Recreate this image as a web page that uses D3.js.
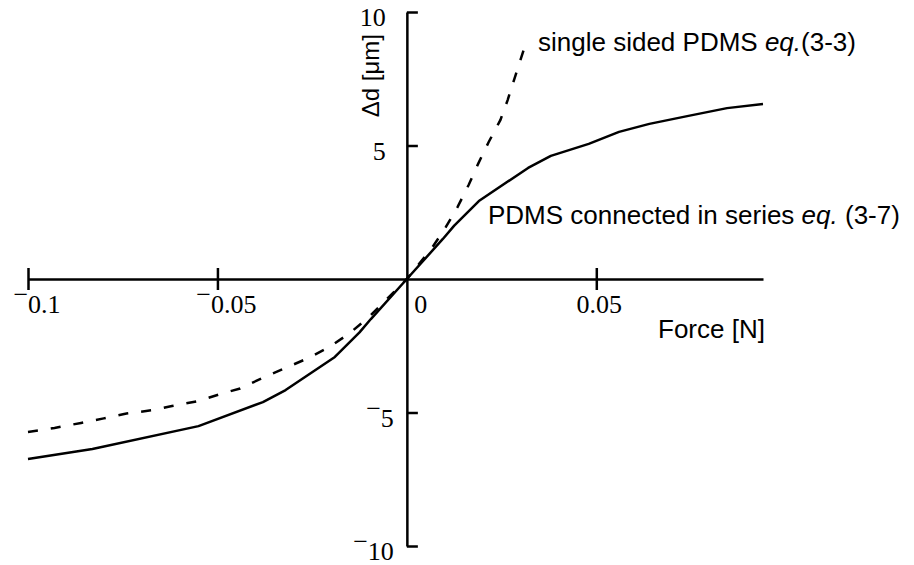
<!DOCTYPE html>
<html>
<head>
<meta charset="utf-8">
<script src="https://cdn.jsdelivr.net/npm/d3@7"></script>
<style>
  body { margin: 0; background: #fff; }
  svg { display: block; }
</style>
</head>
<body>
<svg id="chart" width="914" height="565"></svg>
<script>
// force [N] et déflexion [µm]
var forceSeries = [-0.1, -0.083, -0.055, -0.038, -0.032, -0.019, -0.0125, -0.0095, 0, 0.0095, 0.0125, 0.019, 0.032, 0.038, 0.048, 0.056, 0.064, 0.074, 0.0845, 0.094];
var dSeries = [-6.74, -6.37, -5.51, -4.61, -4.16, -2.92, -2.0, -1.5, 0, 1.5, 2.0, 2.92, 4.16, 4.61, 5.06, 5.51, 5.81, 6.10, 6.40, 6.55];

var forceSingle = [-0.1, -0.093, -0.086, -0.08, -0.074, -0.067, -0.062, -0.055, -0.049, -0.044, -0.038, -0.032, -0.026, -0.0205, -0.015, -0.01, 0, 0.0068, 0.0103, 0.0134, 0.0163, 0.0189, 0.0216, 0.0247, 0.0266, 0.0287, 0.031];
var dSingle = [-5.73, -5.58, -5.39, -5.22, -5.04, -4.91, -4.76, -4.57, -4.3, -4.1, -3.7, -3.33, -2.96, -2.55, -2.02, -1.42, 0, 1.2, 1.95, 2.7, 3.52, 4.34, 5.13, 5.96, 6.7, 7.64, 8.65];

var xTicks = [-0.1, -0.05, 0, 0.05];
var xTickLabels = ["0.1", "0.05", "0", "0.05"];
var yTicks = [-10, -5, 5, 10];
var yTickLabels = ["10", "5", "5", "10"];

var xDomain = [-0.1, 0.094];
var yDomain = [-10, 10];

var svg = d3.select("#chart");

var x = d3.scaleLinear().domain(xDomain).range([28, 763]);
var y = d3.scaleLinear().domain(yDomain).range([546, 12]);

var serif = "'Liberation Serif', 'Times New Roman', serif";
var sans = "'Liberation Sans', Arial, sans-serif";

// axe des x, passe par zéro
var gx = svg.append("g")
  .attr("transform", `translate(0,${y(0)})`)
  .call(d3.axisBottom(x).tickValues(xTicks.filter(d => d != 0)).tickSize(11).tickSizeOuter(0).tickFormat(""));
gx.select(".domain").attr("stroke-width", 2.5);
gx.selectAll(".tick line").attr("y1", -11).attr("stroke-width", 2.5);

// axe des y
var gy = svg.append("g")
  .attr("transform", `translate(${x(0)},0)`)
  .call(d3.axisLeft(y).tickValues(yTicks).tickSize(11).tickSizeOuter(0).tickFormat(""));
gy.select(".domain").attr("stroke-width", 2.5);
gy.selectAll(".tick line").attr("x2", 11).attr("stroke-width", 2.5);

// étiquettes x (le moins est dessiné en haut, style Mathematica)
xTicks.forEach((v, i) => {
  var dx = v < 0 ? 9 : (v == 0 ? 14 : 3);
  var t = svg.append("text")
    .attr("x", x(v) + dx)
    .attr("y", y(0) + 34)
    .attr("text-anchor", "middle")
    .attr("font-family", serif)
    .attr("font-size", 26);
  if (v < 0) {
    t.append("tspan").attr("dy", "-0.38em").text("\u2212");
    t.append("tspan").attr("dy", "0.38em").text(xTickLabels[i]);
  } else {
    t.text(xTickLabels[i]);
  }
});

// étiquettes y
yTicks.forEach((v, i) => {
  var t = svg.append("text")
    .attr("x", v < 0 ? x(0) - 13 : x(0) - 21)
    .attr("y", y(v) + 14)
    .attr("text-anchor", "end")
    .attr("font-family", serif)
    .attr("font-size", 26);
  if (v < 0) {
    t.append("tspan").attr("dy", "-0.38em").text("\u2212");
    t.append("tspan").attr("dy", "0.38em").text(yTickLabels[i]);
  } else {
    t.text(yTickLabels[i]);
  }
});

// courbes
var line = d3.line()
  .x(d => x(d[0]))
  .y(d => y(d[1]));

svg.append("path")
  .datum(d3.zip(forceSeries, dSeries))
  .attr("fill", "none")
  .attr("stroke", "#000")
  .attr("stroke-width", 2.5)
  .attr("stroke-linejoin", "round")
  .attr("d", line);

svg.append("path")
  .datum(d3.zip(forceSingle, dSingle))
  .attr("fill", "none")
  .attr("stroke", "#000")
  .attr("stroke-width", 2.5)
  .attr("stroke-dasharray", "10,13")
  .attr("d", line);

// titres des axes
svg.append("text")
  .attr("transform", `translate(379,34) rotate(-90)`)
  .attr("text-anchor", "end")
  .attr("font-family", sans)
  .attr("font-size", 24)
  .text("\u0394d [\u03bcm]");

svg.append("text")
  .attr("x", 658)
  .attr("y", 338)
  .attr("font-family", sans)
  .attr("font-size", 26)
  .text("Force [N]");

// annotations
var a1 = svg.append("text")
  .attr("x", 538)
  .attr("y", 51)
  .attr("font-family", sans)
  .attr("font-size", 26);
a1.append("tspan").text("single sided PDMS ");
a1.append("tspan").attr("font-style", "italic").text("eq.");
a1.append("tspan").text("(3-3)");

var a2 = svg.append("text")
  .attr("x", 488)
  .attr("y", 224)
  .attr("font-family", sans)
  .attr("font-size", 26);
a2.append("tspan").text("PDMS connected in series ");
a2.append("tspan").attr("font-style", "italic").text("eq.");
a2.append("tspan").text(" (3-7)");
</script>
</body>
</html>
